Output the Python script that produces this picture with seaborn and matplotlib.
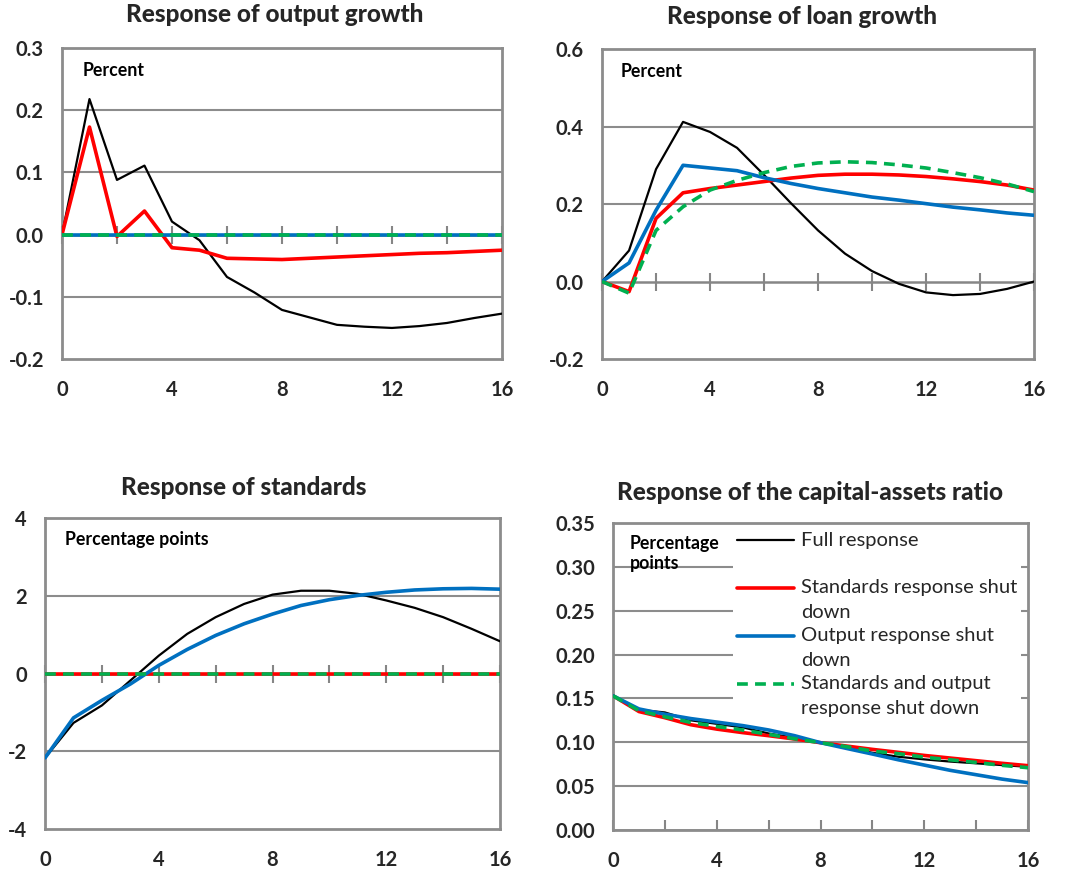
import numpy as np
import pandas as pd
import matplotlib
matplotlib.use("Agg")
import matplotlib.pyplot as plt
import seaborn as sns

sns.set_theme(style="white")
plt.rcParams["font.family"] = ["Lato", "DejaVu Sans"]

quarters = list(range(17))

series_names = [
    "Full response\n ",
    "Standards response shut\ndown",
    "Output response shut\ndown",
    "Standards and output\nresponse shut down",
]

# Output growth (percent)
output_full = [0.0, 0.218, 0.088, 0.111, 0.021, -0.009, -0.068, -0.093, -0.121,
               -0.133, -0.145, -0.148, -0.150, -0.147, -0.142, -0.134, -0.127]
output_std_off = [0.0, 0.173, -0.003, 0.038, -0.021, -0.025, -0.038, -0.039, -0.040,
                  -0.038, -0.036, -0.034, -0.032, -0.030, -0.029, -0.027, -0.025]
output_out_off = [0.0] * 17
output_both_off = [0.0] * 17

# Loan growth (percent)
loan_full = [0.0, 0.080, 0.290, 0.412, 0.386, 0.345, 0.275, 0.202, 0.132,
             0.072, 0.027, -0.006, -0.028, -0.035, -0.032, -0.019, 0.0]
loan_std_off = [0.0, -0.026, 0.163, 0.229, 0.240, 0.249, 0.258, 0.267, 0.274,
                0.277, 0.277, 0.275, 0.271, 0.265, 0.258, 0.249, 0.236]
loan_out_off = [0.0, 0.048, 0.184, 0.300, 0.293, 0.286, 0.268, 0.253, 0.240,
                0.229, 0.218, 0.210, 0.201, 0.192, 0.185, 0.177, 0.171]
loan_both_off = [0.0, -0.030, 0.132, 0.193, 0.236, 0.261, 0.281, 0.297, 0.306,
                 0.309, 0.307, 0.301, 0.293, 0.281, 0.268, 0.252, 0.232]

# Lending standards (percentage points)
std_full = [-2.17, -1.27, -0.82, -0.18, 0.46, 1.02, 1.45, 1.79, 2.03,
            2.13, 2.13, 2.05, 1.88, 1.69, 1.45, 1.15, 0.83]
std_std_off = [0.0] * 17
std_out_off = [-2.17, -1.14, -0.69, -0.27, 0.21, 0.62, 0.98, 1.28, 1.53,
               1.75, 1.90, 2.01, 2.09, 2.15, 2.18, 2.19, 2.17]
std_both_off = [0.0] * 17

# Capital-assets ratio (percentage points)
cap_full = [0.153, 0.137, 0.134, 0.125, 0.121, 0.117, 0.110, 0.105, 0.0995,
            0.094, 0.088, 0.0835, 0.0805, 0.078, 0.076, 0.074, 0.072]
cap_std_off = [0.153, 0.135, 0.128, 0.120, 0.115, 0.111, 0.1075, 0.1037, 0.0995,
               0.0957, 0.0919, 0.0885, 0.085, 0.082, 0.079, 0.076, 0.0733]
cap_out_off = [0.153, 0.138, 0.132, 0.127, 0.123, 0.119, 0.114, 0.1075, 0.0995,
               0.093, 0.0866, 0.080, 0.074, 0.068, 0.063, 0.058, 0.054]
cap_both_off = [0.153, 0.136, 0.129, 0.1226, 0.118, 0.114, 0.109, 0.104, 0.0995,
                0.095, 0.090, 0.087, 0.083, 0.080, 0.077, 0.0737, 0.071]

x_ticks = [0, 4, 8, 12, 16]

panels = [
    dict(title="Response of output growth", unit="Percent",
         data=[output_full, output_std_off, output_out_off, output_both_off],
         ylim=(-0.2, 0.3), yticks=[-0.2, -0.1, 0.0, 0.1, 0.2, 0.3], fmt="{:.1f}",
         rect=[0.0582, 0.5906, 0.4131, 0.3546], unit_xy=(0.048, 0.929),
         title_xy=(275, 15)),
    dict(title="Response of loan growth", unit="Percent",
         data=[loan_full, loan_std_off, loan_out_off, loan_both_off],
         ylim=(-0.2, 0.6), yticks=[-0.2, 0.0, 0.2, 0.4, 0.6], fmt="{:.1f}",
         rect=[0.5653, 0.5906, 0.4056, 0.3535], unit_xy=(0.044, 0.926),
         title_xy=(802, 17)),
    dict(title="Response of standards", unit="Percentage points",
         data=[std_full, std_std_off, std_out_off, std_both_off],
         ylim=(-4, 4), yticks=[-4, -2, 0, 2, 4], fmt="{:.0f}",
         rect=[0.0423, 0.0547, 0.4272, 0.3546], unit_xy=(0.044, 0.932),
         title_xy=(244, 487)),
    dict(title="Response of the capital-assets ratio", unit="Percentage\npoints",
         data=[cap_full, cap_std_off, cap_out_off, cap_both_off],
         ylim=(0.0, 0.35), yticks=[0.0, 0.05, 0.10, 0.15, 0.20, 0.25, 0.30, 0.35],
         fmt="{:.2f}",
         rect=[0.5756, 0.0536, 0.3897, 0.3501], unit_xy=(0.041, 0.90),
         title_xy=(810, 492)),
]

colors = ["#000000", "#FF0000", "#0070C0", "#00B050"]
widths = [1.6, 2.6, 2.6, 2.6]
styles = ["-", "-", "-", (0, (3, 2))]
frame_gray = "#8C8C8C"

W, H = 1065, 877
fig = plt.figure(figsize=(W / 100, H / 100), dpi=100)

for i, p in enumerate(panels):
    ax = fig.add_axes(p["rect"])
    ax.set_facecolor("white")
    ymin, ymax = p["ylim"]

    # horizontal gridlines (zero line drawn as the category axis)
    for yv in p["yticks"]:
        if yv in (ymin, ymax) or abs(yv) < 1e-12:
            continue
        ax.axhline(yv, color=frame_gray, lw=1.5, zorder=1)
    ax.axhline(0, color="#868686", lw=1.8, zorder=1)

    for k in range(4):
        df = pd.DataFrame({"quarter": quarters, "value": p["data"][k]})
        sns.lineplot(data=df, x="quarter", y="value", ax=ax, color=colors[k],
                     lw=widths[k], linestyle=styles[k], label=series_names[k],
                     zorder=3 + k)

    ax.set_xlim(0, 16)
    ax.set_ylim(ymin, ymax)
    ax.set_xticks(x_ticks)
    ax.set_xticklabels([str(t) for t in x_ticks])
    ax.set_yticks(p["yticks"])
    ax.set_yticklabels([p["fmt"].format(v) for v in p["yticks"]])
    ax.tick_params(axis="both", length=0, labelsize=14.5)
    ax.tick_params(axis="x", pad=15)
    ax.tick_params(axis="y", pad=13)
    for lab in ax.get_xticklabels() + ax.get_yticklabels():
        lab.set_fontweight("bold")
    ax.set_xlabel("")
    ax.set_ylabel("")
    for sp in ax.spines.values():
        sp.set_visible(True)
        sp.set_color(frame_gray)
        sp.set_linewidth(2)
        sp.set_zorder(2)

    # tick marks on the zero line
    zero_frac = (0 - ymin) / (ymax - ymin)
    sec = ax.secondary_xaxis(zero_frac)
    sec.set_xticks(list(range(0, 17, 2)))
    sec.tick_params(axis="x", direction="in" if zero_frac == 0 else "inout",
                    length=7 if zero_frac == 0 else 13, width=1.5,
                    color="#868686", labelbottom=False, labeltop=False,
                    labelsize=0)
    sec.set_xticklabels([])
    for sp in sec.spines.values():
        sp.set_visible(False)

    ax.text(p["unit_xy"][0], p["unit_xy"][1], p["unit"], transform=ax.transAxes,
            ha="left", va="center", fontsize=12.8, fontweight="bold",
            color="black", linespacing=1.25, zorder=10)

    fig.text(p["title_xy"][0] / W, 1 - p["title_xy"][1] / H, p["title"],
             ha="center", va="center", fontsize=17.5, fontweight=900)

    if i == 3:
        leg = ax.legend(loc="upper left", bbox_to_anchor=(0.29, 0.985),
                        frameon=True, fontsize=14.5, handlelength=2.8,
                        handletextpad=0.35, labelspacing=0.3, borderpad=0.2,
                        borderaxespad=0, handleheight=1.3)
        leg.get_frame().set_facecolor("white")
        leg.get_frame().set_edgecolor("none")
        leg.get_frame().set_alpha(1)
        leg.set_zorder(8)
        for t in leg.get_texts():
            t.set_linespacing(1.55)
        for row in leg._legend_handle_box.get_children():
            for entry in row.get_children():
                entry.align = "top"
    else:
        lg = ax.get_legend()
        if lg is not None:
            lg.remove()

fig.savefig("out.png", dpi=100, facecolor="white")
